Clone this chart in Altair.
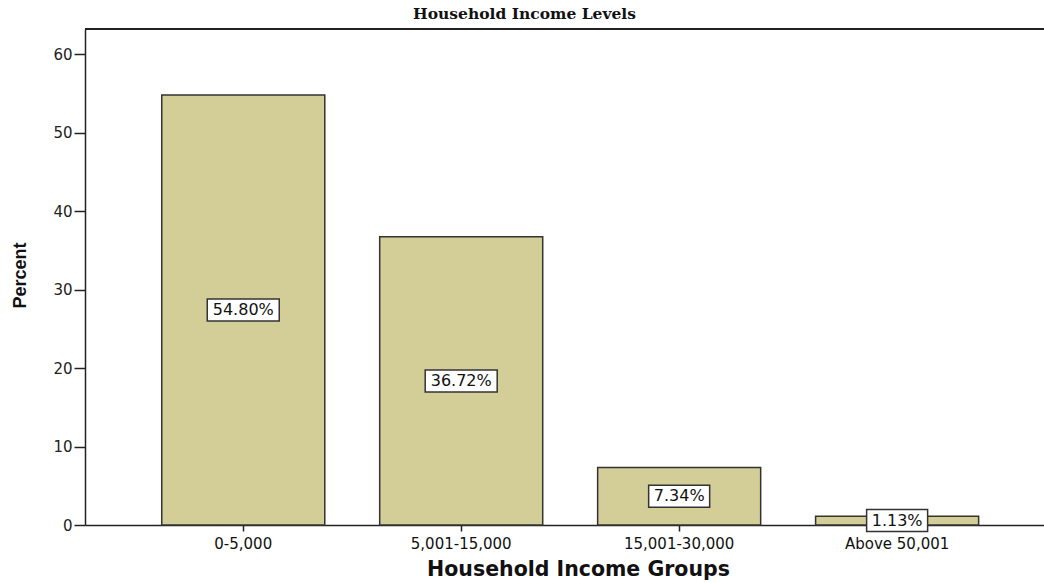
import altair as alt
import pandas as pd

groups = ["0-5,000", "5,001-15,000", "15,001-30,000", "Above 50,001"]
percents = [54.80, 36.72, 7.34, 1.13]

df = pd.DataFrame({"group": groups, "percent": percents})

W, H = 959, 496
AX = "#222222"

xscale = alt.Scale(paddingInner=0.252, paddingOuter=0.326, align=0.54)
yscale = alt.Scale(domain=[0, 63.2], nice=False)

base = alt.Chart(df)

bars = base.mark_bar(fill="#d3cd98", stroke="#333333", strokeWidth=1.5).encode(
    x=alt.X("group:N", sort=groups, scale=xscale,
            axis=alt.Axis(title="Household Income Groups", labelAngle=0,
                          labelFont="DejaVu Sans", labelFontSize=15,
                          labelColor="#111111", labelPadding=5,
                          tickSize=6, tickColor=AX, tickWidth=1.5,
                          domainColor=AX, domainWidth=1.5,
                          titleFont="DejaVu Sans", titleFontSize=20.5,
                          titleFontWeight="bold", titleColor="#111111",
                          titleX=493, titleY=44, titleAnchor="middle", titleAlign="center",
                          titleBaseline="middle")),
    y=alt.Y("percent:Q", scale=yscale,
            axis=alt.Axis(title="Percent", values=[0, 10, 20, 30, 40, 50, 60], grid=False,
                          labelFont="DejaVu Sans", labelFontSize=15, labelColor="#222222",
                          labelPadding=2, tickSize=11, tickColor=AX, tickWidth=1.5,
                          domainColor=AX, domainWidth=1.5,
                          titleFont="Liberation Sans", titleFontSize=18,
                          titleFontWeight="bold", titleColor="#111111",
                          titleAngle=-90, titleX=-65, titleY=246, titleAlign="center",
                          titleBaseline="middle")),
)

top_rule = base.mark_rule(color=AX, strokeWidth=1.5).encode(
    x=alt.value(0), x2=alt.value(W), y=alt.value(0)
)

labeled = base.transform_calculate(
    mid="datum.percent / 2",
    label="format(datum.percent, '.2f') + '%'",
).transform_calculate(
    hw="(11 * length(datum.label) + 6) / 2",
).transform_calculate(
    box="'M' + (-datum.hw) + ',-11 H' + datum.hw + ' V11 H' + (-datum.hw) + ' Z'",
)

boxes = labeled.mark_point(
    size=4, filled=True, fill="white",
    stroke="#333333", strokeWidth=1.5, opacity=1,
).encode(
    x=alt.X("group:N", sort=groups, scale=xscale),
    y=alt.Y("mid:Q", scale=yscale),
    shape=alt.Shape("box:N", scale=None),
)

texts = labeled.mark_text(font="DejaVu Sans", fontSize=16, color="#111111",
                          align="center", baseline="middle").encode(
    x=alt.X("group:N", sort=groups, scale=xscale),
    y=alt.Y("mid:Q", scale=yscale),
    text="label:N",
)

chart = alt.layer(bars, top_rule, boxes, texts).properties(
    width=W, height=H,
    title=alt.TitleParams("Household Income Levels", anchor="middle", frame="group",
                          dx=-40, offset=6, font="DejaVu Serif", fontSize=15.5,
                          fontWeight="bold", color="#111111"),
    autosize=alt.AutoSizeParams(type="none"),
    padding={"left": 85, "top": 29, "right": 0, "bottom": 58},
).configure_view(stroke=None).configure(background="white")

chart.save("out.html", embed_options={"renderer": "svg", "actions": False})
